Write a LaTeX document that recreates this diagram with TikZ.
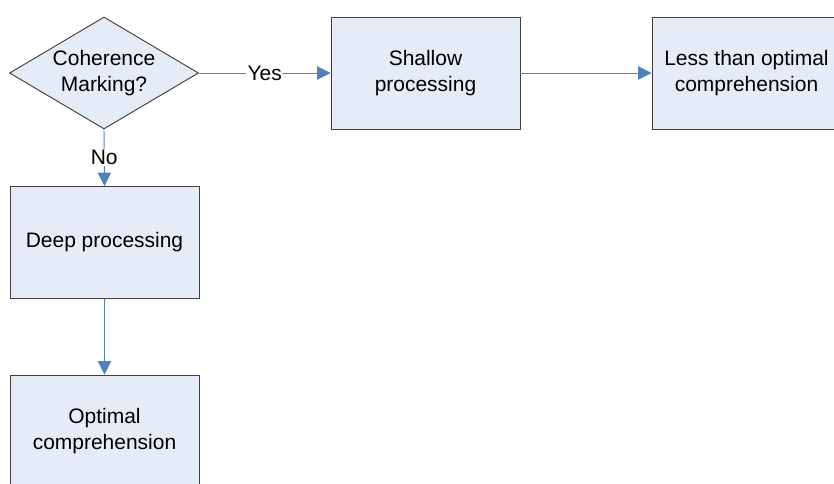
\documentclass[tikz,border=0pt]{standalone}
\usepackage{fontspec}
\setmainfont{Liberation Sans}
\usepackage{tikz}
\usetikzlibrary{positioning,shapes,arrows.meta}
\usepackage{xcolor}

\definecolor{boxfill}{RGB}{230,236,247}
\definecolor{boxline}{RGB}{64,64,64}
\definecolor{flowblue}{RGB}{79,129,189}

\begin{document}
\begin{tikzpicture}[
    stepbox/.style={rectangle,draw=boxline,fill=boxfill,line width=0.8pt,
      minimum width=5.67cm,minimum height=3.36cm,inner sep=0pt,align=center,
      font=\fontsize{17.9}{22.2}\selectfont},
    decision/.style={diamond,draw=boxline,fill=boxfill,line width=0.8pt,
      minimum width=5.67cm,minimum height=3.36cm,shape aspect=1.69,inner sep=0pt,
      align=center,font=\fontsize{17.9}{22.2}\selectfont},
    flow/.style={draw=flowblue,line width=0.8pt,-{Triangle[length=0.4cm,width=0.4cm]}},
    choice/.style={fill=white,inner sep=1pt,font=\fontsize{17.9}{22.2}\selectfont}
  ]
    \useasboundingbox (0,0) rectangle (25.02,14.52);

    % Decision and the two branches
    \node[decision] (coherence) at (3.12,12.33) {Coherence\\Marking?};
    \node[stepbox] (shallow) at (12.765,12.33) {Shallow\\processing};
    \node[stepbox] (lessopt) at (22.395,12.33) {Less than optimal\\comprehension};
    \node[stepbox] (deep) at (3.135,7.245) {Deep processing};
    \node[stepbox] (optimal) at (3.135,1.59) {Optimal\\comprehension};

    % Connectors
    \draw[flow] (coherence.east) -- node[choice] {Yes} (shallow.west);
    \draw[flow] (shallow.east) -- (lessopt.west);
    \draw[flow] (coherence.south) -- node[choice] {No} (deep.north);
    \draw[flow] (deep.south) -- (optimal.north);
  \end{tikzpicture}
\end{document}
